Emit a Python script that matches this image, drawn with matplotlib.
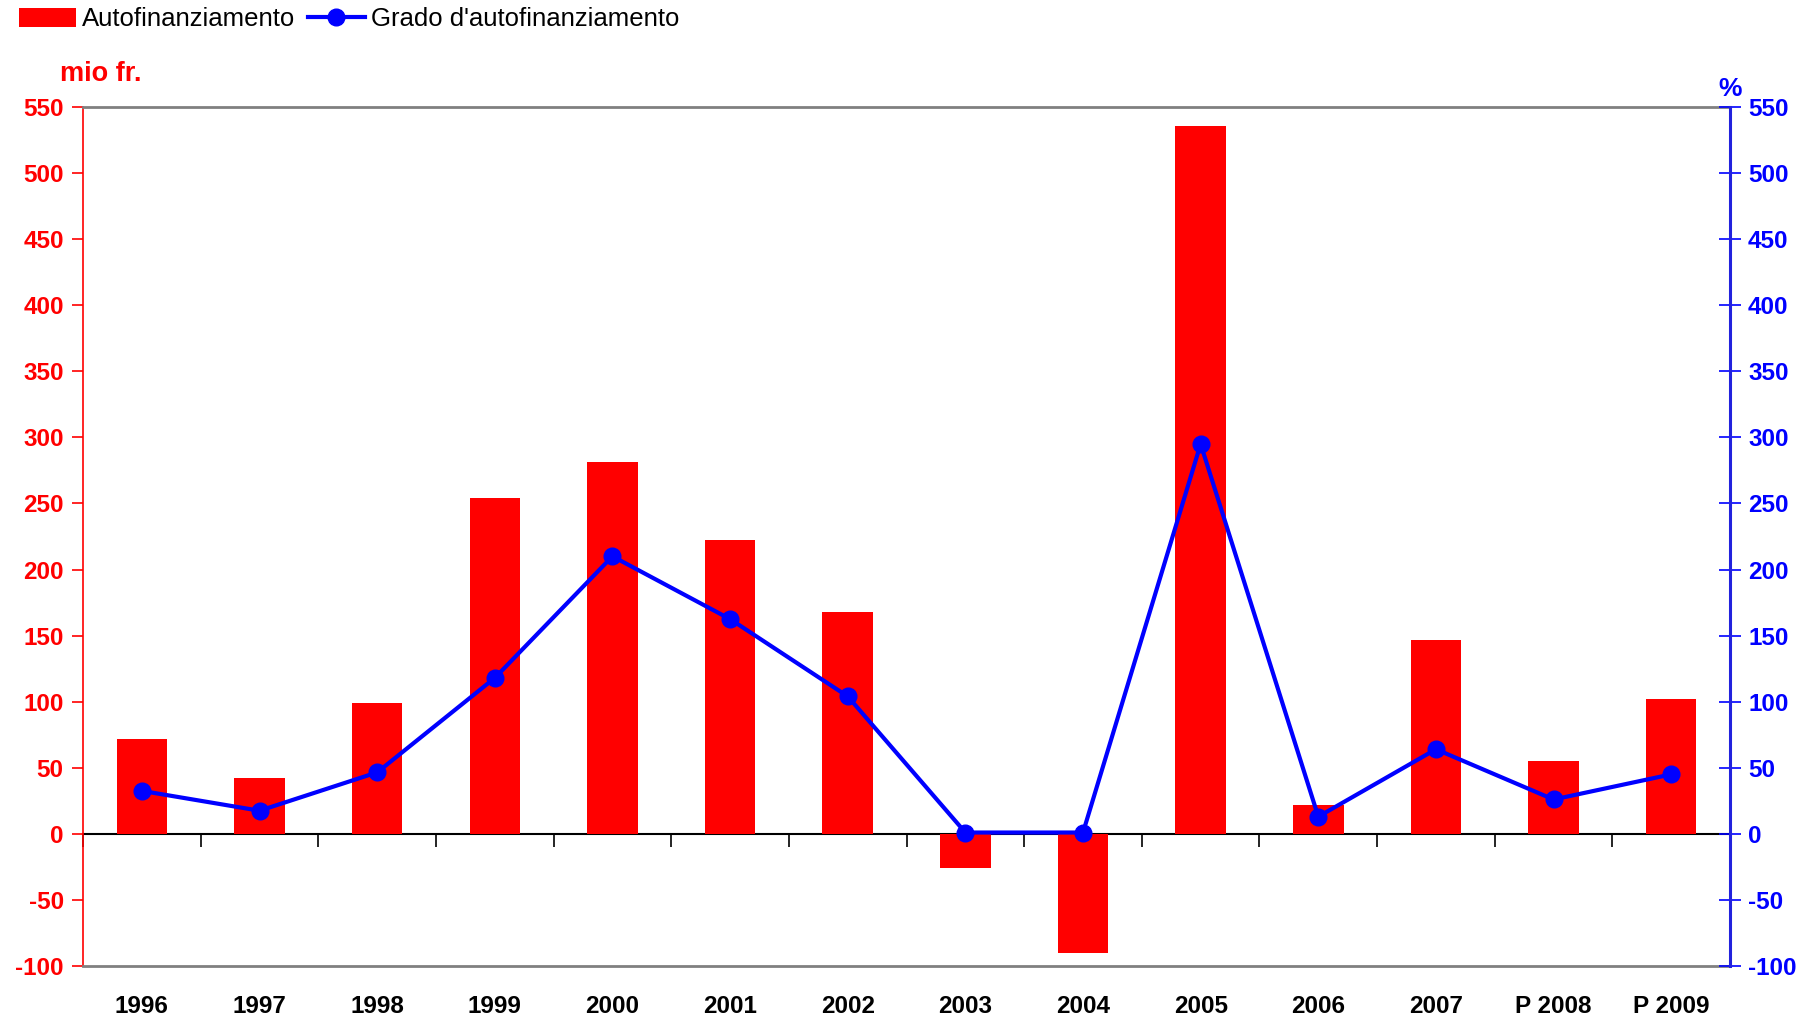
import numpy as np
import matplotlib
matplotlib.use("Agg")
import matplotlib.pyplot as plt

plt.rcParams['font.family'] = ['Liberation Sans', 'DejaVu Sans']

years = ["1996", "1997", "1998", "1999", "2000", "2001", "2002", "2003",
         "2004", "2005", "2006", "2007", "P 2008", "P 2009"]
autofin = [72, 42, 99, 254, 281, 222, 168, -26, -90, 536, 22, 147, 55, 102]
grado = [32.5, 17.5, 46.5, 118, 210, 162.5, 104, 1, 1, 295, 13, 64, 26, 45]
yticks = list(range(-100, 551, 50))

RED = '#FF0000'
BLUE = '#0000FF'
GRAY = '#808080'

fig = plt.figure(figsize=(18.18, 10.22), dpi=100)
ax = fig.add_axes([0.0457, 0.0548, 0.9059, 0.8405])
x = np.arange(len(years))

bars = ax.bar(x, autofin, width=0.43, color=RED, label='Autofinanziamento', zorder=2)
ax.set_xlim(-0.5, len(years) - 0.5)
ax.set_ylim(-100, 550)
ax.set_yticks(yticks)
ax.set_yticklabels([str(v) for v in yticks], color=RED, fontsize=17.5, fontweight='bold')
ax.tick_params(axis='y', direction='out', length=8, color=RED, width=1.2, pad=6)
ax.set_xticks(x)
ax.set_xticklabels(years, fontsize=17.5, fontweight='bold', color='black')
ax.tick_params(axis='x', length=0, pad=21)
for s in ['top', 'bottom']:
    ax.spines[s].set_color(GRAY)
    ax.spines[s].set_linewidth(2)
ax.spines['left'].set_color(RED)
ax.spines['left'].set_linewidth(1.2)
ax.spines['right'].set_visible(False)

# zero line with category boundary ticks
sec = ax.secondary_xaxis(0, transform=ax.transData)
sec.set_xticks(np.arange(-0.5, len(years), 1.0))
sec.set_xticklabels([])
sec.tick_params(axis='x', direction='out', length=9, color='black', width=1.2)
sec.spines['bottom'].set_color('black')
sec.spines['bottom'].set_linewidth(1.5)

ax2 = ax.twinx()
ax2.plot(x, grado, color=BLUE, lw=3, marker='o', markersize=12,
         label="Grado d'autofinanziamento", zorder=3)
ax2.set_ylim(-100, 550)
ax2.set_yticks(yticks)
ax2.set_yticklabels([str(v) for v in yticks], color=BLUE, fontsize=17.5, fontweight='bold')
ax2.tick_params(axis='y', direction='inout', length=16, color=BLUE, width=1.2, pad=5)
ax2.spines['right'].set_color('#2222DD')
ax2.spines['right'].set_linewidth(2.2)
for s in ['top', 'bottom', 'left']:
    ax2.spines[s].set_visible(False)

fig.text(0.033, 0.928, 'mio fr.', color=RED, fontsize=19.5, fontweight='bold',
         ha='left', va='center')
fig.text(0.9516, 0.913, '%', color=BLUE, fontsize=19, fontweight='bold',
         ha='center', va='center')

h1, l1 = ax.get_legend_handles_labels()
h2, l2 = ax2.get_legend_handles_labels()
fig.legend(h1 + h2, l1 + l2, loc='upper left', bbox_to_anchor=(0.002, 1.008),
           ncol=2, frameon=False, fontsize=18.5, handlelength=2.2,
           handleheight=0.75, handletextpad=0.25, columnspacing=0.5,
           borderaxespad=0.2)

fig.savefig('out.png', dpi=100)
